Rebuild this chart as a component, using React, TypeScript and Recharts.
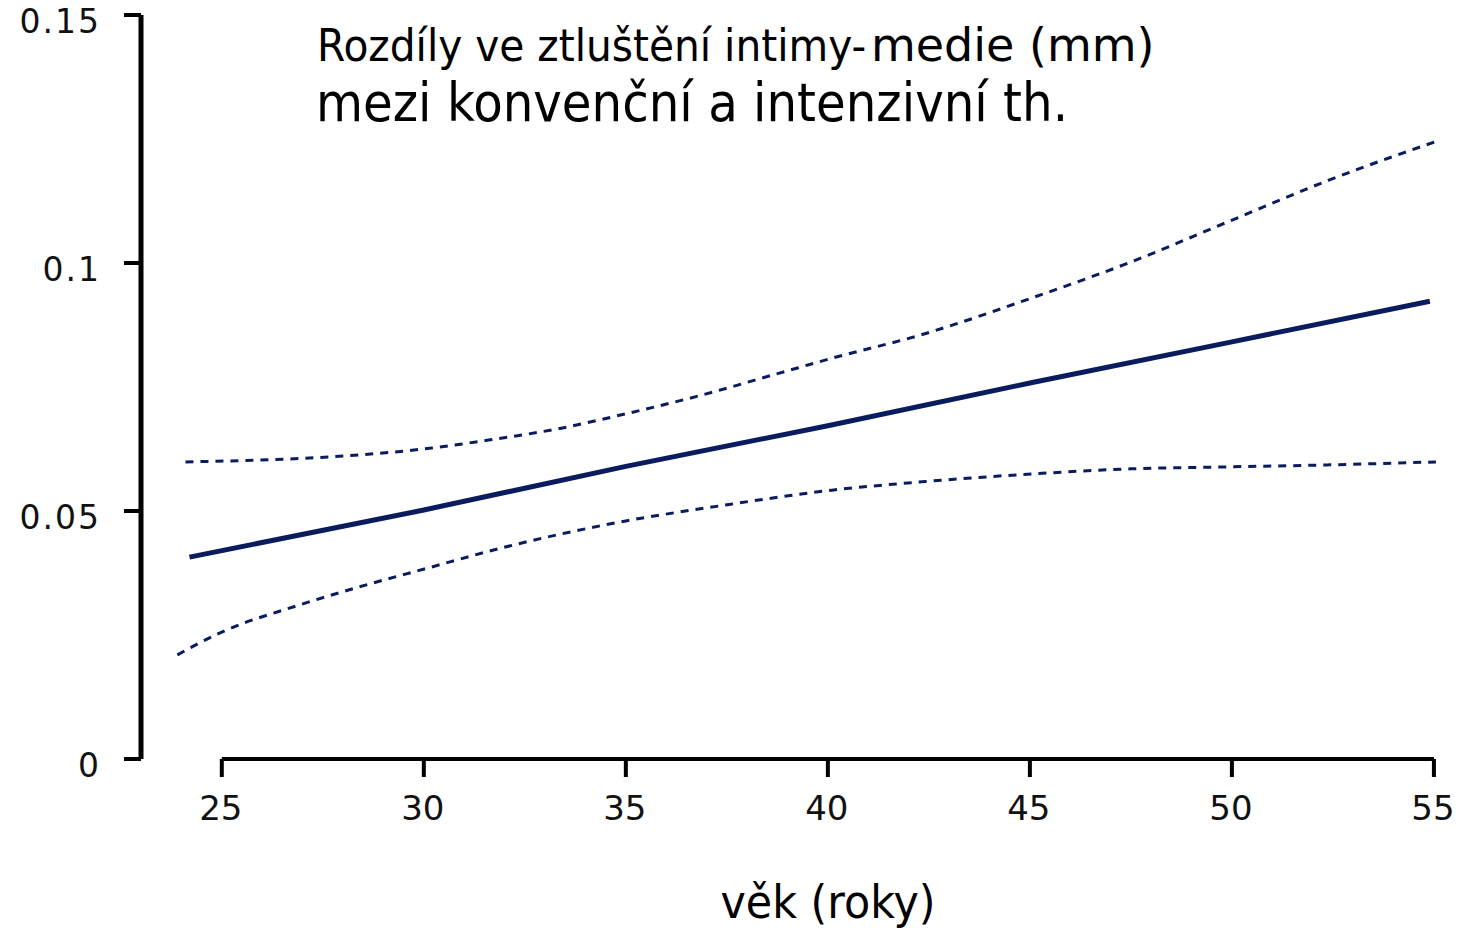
import { LineChart, Line, XAxis, YAxis, ReferenceLine } from "recharts";

const ageTicks = [25, 30, 35, 40, 45, 50, 55];
const diffTicks = [0, 0.05, 0.1, 0.15];

// mean difference (solid line)
const meanAges = [24.2, 30, 35, 40, 45, 50, 54.9];
const meanValues = [0.0407, 0.0502, 0.059, 0.0672, 0.0758, 0.0841, 0.0923];

// upper confidence bound (dashed)
const upperAges = [24.1, 26.7, 28.4, 30.2, 31.6, 33.4, 35, 36.8, 38.8, 40.1, 42.3, 45.1, 47.5, 49.9, 52.4, 55.05];
const upperValues = [0.0599, 0.0605, 0.0613, 0.0627, 0.0643, 0.0667, 0.0696, 0.0732, 0.0778, 0.0808, 0.0855, 0.0931, 0.1002, 0.1083, 0.1167, 0.1245];

// lower confidence bound (dashed)
const lowerAges = [23.9, 25, 26.9, 28.4, 30.1, 31.9, 35, 37.3, 40.1, 42.5, 45.1, 47.5, 49.9, 52.4, 55.05];
const lowerValues = [0.021, 0.0256, 0.031, 0.0347, 0.0385, 0.0425, 0.048, 0.051, 0.0542, 0.056, 0.0575, 0.0585, 0.0589, 0.0593, 0.0599];

const toRows = (ages: number[], vals: number[]) => ages.map((age, i) => ({ age, v: vals[i] }));

const meanData = toRows(meanAges, meanValues);
const upperData = toRows(upperAges, upperValues);
const lowerData = toRows(lowerAges, lowerValues);

const NAVY = "#0a1c5e";

const YTick = (props: any) => {
  const { x, y, payload } = props;
  return (
    <text x={x - 23} y={y + 18} textAnchor="end" fontSize={33} letterSpacing={2} fill="#111" fontFamily="'DejaVu Sans', Verdana, sans-serif">
      {String(payload.value)}
    </text>
  );
};

const XTick = (props: any) => {
  const { x, y, payload } = props;
  return (
    <text x={x - 1} y={y + 43} textAnchor="middle" fontSize={34} fill="#111" fontFamily="'DejaVu Sans', Verdana, sans-serif">
      {payload.value}
    </text>
  );
};

export default function App() {
  return (
    <div style={{ position: "absolute", left: 0, top: 0, width: 1462, height: 930, background: "#fff" }}>
      <LineChart width={1462} height={930} margin={{ top: 15, right: 20, left: 0, bottom: 0 }}>
        <XAxis
          type="number"
          dataKey="age"
          domain={[23, 55.2]}
          ticks={ageTicks}
          interval={0}
          height={171}
          axisLine={false}
          tickLine={{ stroke: "#000", strokeWidth: 4 }}
          tickSize={18}
          tickMargin={0}
          tick={<XTick />}
        />
        <YAxis
          type="number"
          domain={[0, 0.15]}
          ticks={diffTicks}
          interval={0}
          width={141}
          axisLine={{ stroke: "#000", strokeWidth: 5 }}
          tickLine={{ stroke: "#000", strokeWidth: 4 }}
          tickSize={17}
          tickMargin={0}
          tick={<YTick />}
        />
        <ReferenceLine segment={[{ x: 25, y: 0 }, { x: 55, y: 0 }]} stroke="#000" strokeWidth={4} ifOverflow="visible" />
        <Line data={upperData} dataKey="v" type="monotone" stroke={NAVY} strokeWidth={3} strokeDasharray="8 7" dot={false} activeDot={false} isAnimationActive={false} />
        <Line data={lowerData} dataKey="v" type="monotone" stroke={NAVY} strokeWidth={3} strokeDasharray="8 7" dot={false} activeDot={false} isAnimationActive={false} />
        <Line data={meanData} dataKey="v" type="linear" stroke={NAVY} strokeWidth={5} dot={false} activeDot={false} isAnimationActive={false} />
      </LineChart>
      <svg width={1462} height={930} style={{ position: "absolute", left: 0, top: 0, pointerEvents: "none" }}>
        <g fontFamily="'DejaVu Sans', Verdana, sans-serif" fill="#000">
          <text transform="translate(317,61) scale(0.905,1)" fontSize={45}>Rozdíly ve ztluštění intimy-</text>
          <text x={871} y={61} fontSize={46}>medie (mm)</text>
          <text x={316} y={121} fontSize={53} textLength={752} lengthAdjust="spacingAndGlyphs">mezi konvenční a intenzivní th.</text>
          <text x={828} y={918} fontSize={47} textAnchor="middle" textLength={215} lengthAdjust="spacingAndGlyphs">věk (roky)</text>
        </g>
      </svg>
    </div>
  );
}
